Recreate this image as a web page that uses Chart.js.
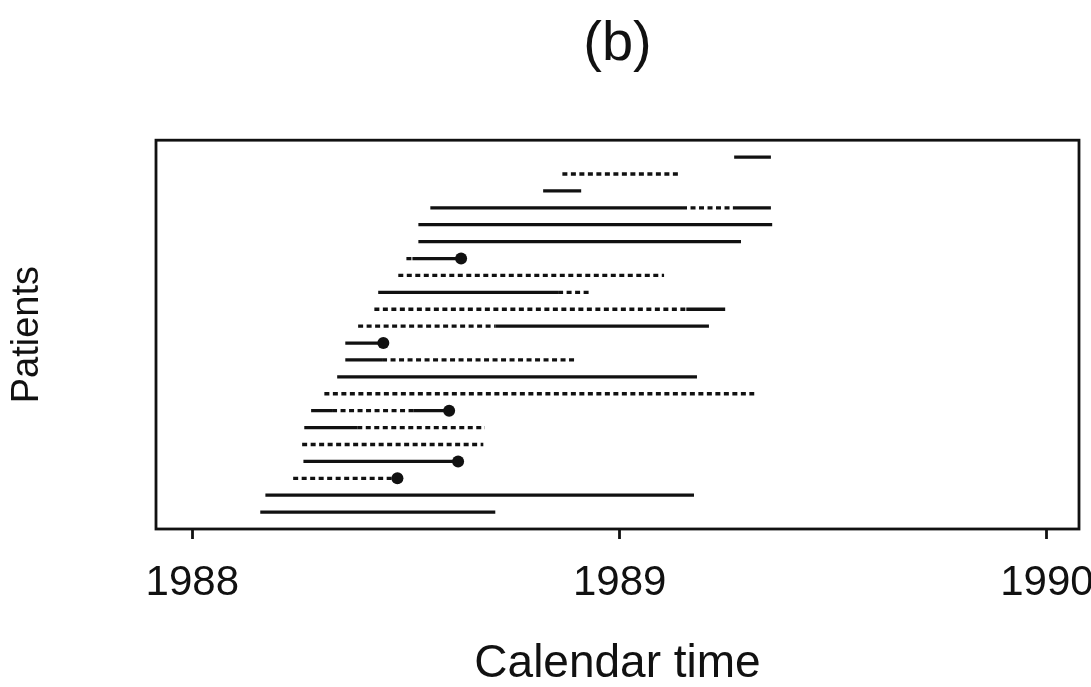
<!DOCTYPE html>
<html>
<head>
<meta charset="utf-8">
<script src="https://cdn.jsdelivr.net/npm/chart.js@4"></script>
<style>
  html, body { margin: 0; padding: 0; background: #ffffff; }
  #wrap { width: 1091px; height: 687px; }
</style>
</head>
<body>
<div id="wrap"><canvas id="c" width="1091" height="687"></canvas></div>
<script>
// ---- data (calendar years; row 1 = top patient) ----
const tickYears = [1988, 1989, 1990];
// [row, start, end]
const solidSegments = [
  [1, 1989.268, 1989.354],
  [3, 1988.821, 1988.910],
  [4, 1988.557, 1989.146],
  [4, 1989.265, 1989.354],
  [5, 1988.529, 1989.357],
  [6, 1988.529, 1989.284],
  [7, 1988.515, 1988.629],
  [9, 1988.435, 1988.856],
  [10, 1989.156, 1989.247],
  [11, 1988.709, 1989.209],
  [12, 1988.358, 1988.447],
  [13, 1988.358, 1988.444],
  [14, 1988.339, 1989.181],
  [16, 1988.278, 1988.327],
  [16, 1988.517, 1988.601],
  [17, 1988.262, 1988.386],
  [19, 1988.260, 1988.622],
  [21, 1988.171, 1989.174],
  [22, 1988.159, 1988.709]
];
const dashedSegments = [
  [2, 1988.866, 1989.139],
  [4, 1989.146, 1989.265],
  [7, 1988.501, 1988.515],
  [8, 1988.482, 1989.104],
  [9, 1988.856, 1988.929],
  [10, 1988.426, 1989.156],
  [11, 1988.388, 1988.709],
  [13, 1988.444, 1988.896],
  [15, 1988.309, 1989.315],
  [16, 1988.327, 1988.517],
  [17, 1988.386, 1988.685],
  [18, 1988.257, 1988.681],
  [20, 1988.236, 1988.480]
];
const deathRows  = [7, 12, 16, 19, 20];
const deathTimes = [1988.629, 1988.447, 1988.601, 1988.622, 1988.480];

const FONT = "'Liberation Sans', Arial, Helvetica, sans-serif";
const INK = '#111111';

function segDataset(seg, dashed) {
  return {
    type: 'line',
    data: [{x: seg[1], y: seg[0]}, {x: seg[2], y: seg[0]}],
    borderColor: INK,
    borderWidth: 3.3,
    borderDash: dashed ? [5, 3.5] : [],
    borderCapStyle: 'butt',
    pointRadius: 0,
    pointHoverRadius: 0,
    fill: false,
    tension: 0
  };
}

const datasets = [];
solidSegments.forEach(s => datasets.push(segDataset(s, false)));
dashedSegments.forEach(s => datasets.push(segDataset(s, true)));
datasets.push({
  type: 'scatter',
  data: deathRows.map((r, i) => ({x: deathTimes[i], y: r})),
  pointRadius: 6,
  pointHoverRadius: 6,
  pointBackgroundColor: INK,
  pointBorderColor: INK,
  pointBorderWidth: 0
});

const boxPlugin = {
  id: 'box',
  afterDatasetsDraw(chart) {
    const a = chart.chartArea;
    const ctx = chart.ctx;
    ctx.save();
    ctx.strokeStyle = INK;
    ctx.lineWidth = 2.8;
    ctx.strokeRect(a.left, a.top, a.right - a.left, a.bottom - a.top);
    ctx.restore();
  }
};

new Chart(document.getElementById('c'), {
  type: 'line',
  data: { datasets },
  plugins: [boxPlugin],
  options: {
    responsive: false,
    animation: false,
    events: [],
    layout: { padding: { left: 0, right: 12, top: 0, bottom: 0 } },
    plugins: {
      legend: { display: false },
      tooltip: { enabled: false },
      title: {
        display: true,
        text: '(b)',
        fullSize: false,
        color: INK,
        font: { family: FONT, size: 56, weight: 'normal' },
        padding: { top: 11, bottom: 62 }
      }
    },
    scales: {
      x: {
        type: 'linear',
        min: 1987.915,
        max: 1990.075,
        afterBuildTicks: s => { s.ticks = tickYears.map(v => ({value: v})); },
        afterFit: s => { s.height = 158; s.paddingLeft = 0; s.paddingRight = 0; },
        border: { display: false },
        grid: {
          drawOnChartArea: false,
          drawTicks: true,
          tickLength: 10,
          tickWidth: 2.8,
          tickColor: INK
        },
        ticks: {
          color: INK,
          padding: 19,
          maxRotation: 0,
          autoSkip: false,
          font: { family: FONT, size: 42 },
          callback: v => String(v)
        },
        title: {
          display: true,
          text: 'Calendar time',
          color: INK,
          font: { family: FONT, size: 46, lineHeight: 1.0 },
          padding: { top: 0, bottom: 0 }
        }
      },
      y: {
        type: 'linear',
        min: 0,
        max: 23,
        reverse: true,
        afterFit: s => { s.width = 156; },
        border: { display: false },
        grid: { display: false },
        ticks: { display: false },
        title: {
          display: true,
          text: 'Patients',
          color: INK,
          font: { family: FONT, size: 38 },
          padding: { top: 5, bottom: 0 }
        }
      }
    }
  }
});
</script>
</body>
</html>
